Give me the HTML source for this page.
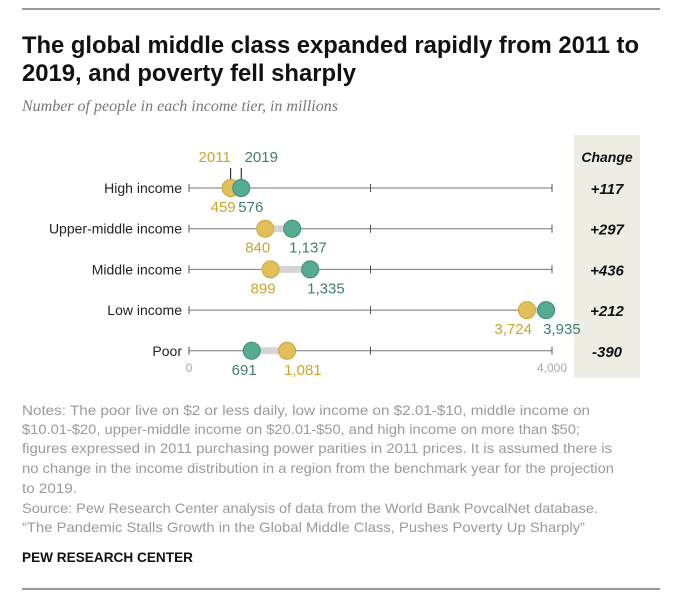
<!DOCTYPE html>
<html><head><meta charset="utf-8"><style>
body{margin:0;background:#fff;width:694px;height:609px;overflow:hidden;font-family:"Liberation Sans",sans-serif}
</style></head><body>
<svg width="694" height="609" xmlns="http://www.w3.org/2000/svg">
<line x1="22" y1="9" x2="660" y2="9" stroke="#777" stroke-width="1.5"/>
<text x="22" y="53" font-weight="bold" font-size="24" fill="#111" textLength="617" lengthAdjust="spacingAndGlyphs">The global middle class expanded rapidly from 2011 to</text>
<text x="22" y="81" font-weight="bold" font-size="24" fill="#111" textLength="334" lengthAdjust="spacingAndGlyphs">2019, and poverty fell sharply</text>
<text x="22" y="111" font-family="Liberation Serif, serif" font-style="italic" font-size="16" fill="#777">Number of people in each income tier, in millions</text>
<rect x="574" y="135" width="66" height="243" fill="#eeede3"/>
<text x="607" y="162" text-anchor="middle" font-weight="bold" font-style="italic" font-size="14" fill="#111">Change</text>
<g id="plot"></g>
<g font-size="14" fill="#9a9a9a" lengthAdjust="spacingAndGlyphs">
<text x="22" y="415" textLength="568" lengthAdjust="spacingAndGlyphs">Notes: The poor live on $2 or less daily, low income on $2.01-$10, middle income on</text>
<text x="22" y="434" textLength="558" lengthAdjust="spacingAndGlyphs">$10.01-$20, upper-middle income on $20.01-$50, and high income on more than $50;</text>
<text x="22" y="453" textLength="590" lengthAdjust="spacingAndGlyphs">figures expressed in 2011 purchasing power parities in 2011 prices. It is assumed there is</text>
<text x="22" y="473" textLength="592" lengthAdjust="spacingAndGlyphs">no change in the income distribution in a region from the benchmark year for the projection</text>
<text x="22" y="493" textLength="55" lengthAdjust="spacingAndGlyphs">to 2019.</text>
<text x="22" y="513" textLength="576" lengthAdjust="spacingAndGlyphs">Source: Pew Research Center analysis of data from the World Bank PovcalNet database.</text>
<text x="22" y="532" textLength="563" lengthAdjust="spacingAndGlyphs">“The Pandemic Stalls Growth in the Global Middle Class, Pushes Poverty Up Sharply”</text>
</g>
<text x="22" y="562" font-weight="bold" font-size="14" fill="#111" textLength="171" lengthAdjust="spacingAndGlyphs">PEW RESEARCH CENTER</text>
<line x1="22" y1="589" x2="660" y2="589" stroke="#777" stroke-width="1.5"/>
</svg>
<script>
const categories=["High income","Upper-middle income","Middle income","Low income","Poor"];
const values2011=[459,840,899,3724,1081];
const values2019=[576,1137,1335,3935,691];
const changes=["+117","+297","+436","+212","-390"];
const tickLabels=["0","4,000"];
const tickValues=[0,2000,4000];
const NS="http://www.w3.org/2000/svg";
const g=document.getElementById('plot');
const x0=189,x1=552,max=4000;
function xs(v){return x0+(x1-x0)*v/max;}
function ys(i){return 188+i*40.7;}
function mk(t,a,p){const e=document.createElementNS(NS,t);for(const k in a)e.setAttribute(k,a[k]);(p||g).appendChild(e);return e;}
const gold="#e3bf5a",teal="#55ac93",goldT="#c9a52a",tealT="#3f7f6c";
categories.forEach((c,i)=>{
 const y=ys(i);
 const row=mk('g',{});
 
 
 const lab=mk('text',{x:182,y:y+5,'text-anchor':'end','font-size':14,fill:'#222'},row);lab.textContent=c;
 
 
 mk('line',{x1:xs(0),y1:y,x2:xs(max),y2:y,stroke:'#777','stroke-width':1},row);
 tickValues.forEach(t=>{mk('line',{x1:xs(t),y1:y-4,x2:xs(t),y2:y+4,stroke:'#555','stroke-width':1},row);});
 const a=values2011[i],b=values2019[i];
 mk('line',{x1:xs(a),y1:y,x2:xs(b),y2:y,stroke:'#d5d5d5','stroke-width':7},row);
 if(i===0){
  mk('line',{x1:xs(a),y1:y-6,x2:xs(a),y2:y-20,stroke:'#111','stroke-width':1},row);
  mk('line',{x1:xs(b),y1:y-6,x2:xs(b),y2:y-20,stroke:'#111','stroke-width':1},row);
  mk('circle',{cx:xs(a),cy:y-7,r:2,fill:'#111'},row);
  mk('circle',{cx:xs(b),cy:y-7,r:2,fill:'#111'},row);
  const l1=mk('text',{x:xs(a)-16,y:162,'text-anchor':'middle','font-size':15,fill:goldT},row);l1.textContent="2011";
  
  
  const l2=mk('text',{x:xs(b)+20,y:162,'text-anchor':'middle','font-size':15,fill:tealT},row);l2.textContent="2019";
  
  
 }
 const d1=mk('circle',{cx:xs(a),cy:y,r:8.5,fill:gold,stroke:'#c9a640','stroke-width':1},row);
 
 
 const d2=mk('circle',{cx:xs(b),cy:y,r:8.5,fill:teal,stroke:'#3f8a74','stroke-width':1},row);
 
 
 const lo=Math.min(a,b),hi=Math.max(a,b);
 const loC=lo===a?goldT:tealT,hiC=hi===a?goldT:tealT;
 const t1=mk('text',{x:xs(lo)+5,y:y+24,'text-anchor':'end','font-size':15,fill:loC},row);t1.textContent=lo.toLocaleString('en-US');
 
 
 const t2=mk('text',{x:xs(hi)-3,y:y+24,'text-anchor':'start','font-size':15,fill:hiC},row);t2.textContent=hi.toLocaleString('en-US');
 
 
 const ch=mk('text',{x:607,y:y+6,'text-anchor':'middle','font-size':15,'font-weight':'bold','font-style':'italic',fill:'#111'},row);ch.textContent=changes[i];
 
 
});
[0,max].forEach((v,k)=>{
 const t=mk('text',{x:xs(v),y:372,'text-anchor':'middle','font-size':12,fill:'#aaa'});t.textContent=tickLabels[k];
 
 
});
</script>
</body></html>
